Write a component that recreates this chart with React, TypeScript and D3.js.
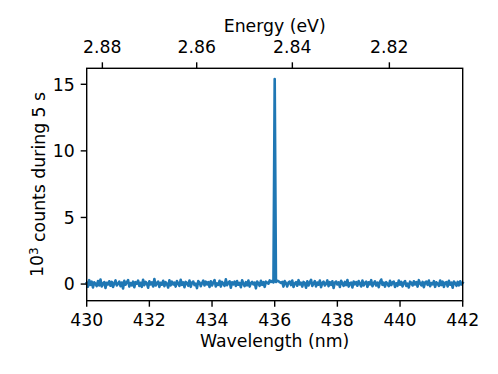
import React, { useEffect, useRef } from "react";
import * as d3 from "d3";

// spectrum sampled every 0.04 nm from 430 nm, values in 10^3 counts
const startNm = 430;
const stepNm = 0.04;
const counts = [
  0.08, -0.2, 0.29, -0.06, 0.18, -0.26, 0.13, 0.03, -0.15, 0.22, -0.1, 0.34, -0.18, 0.05, 0.15, -0.29, 0.1, -0.03, 0.21, -0.13,
  0.16, -0.22, 0.06, 0.27, -0.11, 0.02, 0.19, -0.16, 0.11, -0.33, 0.24, -0.05, 0.13, 0.3, -0.19, 0.08, -0.1, 0.18, -0.24, 0.14,
  0.03, 0.26, -0.14, 0.1, -0.21, 0.32, -0.08, 0.16, 0.05, -0.27, 0.21, -0.02, 0.13, -0.18, 0.38, -0.11, 0.06, 0.19, -0.22, 0.1,
  -0.05, 0.24, -0.16, 0.14, 0.02, -0.26, 0.29, -0.1, 0.18, -0.03, 0.11, -0.19, 0.22, 0.05, -0.14, 0.32, -0.06, 0.13, -0.24, 0.16,
  0.08, -0.13, 0.27, -0.21, 0.1, 0.19, -0.08, 0.03, -0.3, 0.22, 0.13, -0.16, 0.06, 0.26, -0.11, 0.18, -0.03, 0.14, -0.22, 0.21,
  -0.1, 0.11, 0.3, -0.18, 0.05, -0.06, 0.24, -0.19, 0.16, 0.02, -0.13, 0.35, -0.08, 0.1, 0.21, -0.27, 0.13, -0.02, 0.18, -0.14,
  0.22, -0.05, 0.08, -0.24, 0.29, 0.03, -0.16, 0.14, -0.1, 0.26, -0.19, 0.06, 0.16, -0.03, 0.11, -0.32, 0.19, 0.05, -0.13, 0.24,
  -0.06, 0.14, -0.21, 0.18, 0.1, 0.03, 0.27, 0.16, 0.24, 0.12, 15.4, 0.15, 0.26, 0.22, 0.14, 0.08, 0.16, -0.19, 0.22, 0.06,
  -0.18, 0.11, 0.19, -0.08, 0.26, -0.22, 0.05, 0.14, -0.13, 0.29, -0.03, 0.1, -0.19, 0.16, 0.06, -0.27, 0.21, -0.1, 0.13, 0.32,
  -0.14, 0.03, 0.22, -0.18, 0.11, -0.05, 0.26, -0.24, 0.08, 0.18, -0.11, 0.02, 0.27, -0.16, 0.14, -0.06, 0.21, -0.29, 0.1, 0.19,
  -0.03, 0.13, -0.22, 0.24, 0.05, -0.14, 0.16, -0.08, 0.3, -0.19, 0.06, 0.11, -0.26, 0.19, -0.02, 0.14, -0.13, 0.22, 0.03, -0.18,
  0.26, -0.1, 0.08, 0.18, -0.21, 0.13, -0.03, 0.29, -0.16, 0.05, 0.21, -0.11, 0.1, -0.24, 0.16, 0.34, -0.06, 0.11, -0.19, 0.14,
  0.02, -0.16, 0.24, -0.08, 0.13, 0.19, -0.22, 0.06, -0.13, 0.27, -0.05, 0.16, -0.18, 0.1, 0.22, -0.14, 0.03, -0.26, 0.18, 0.08,
  -0.11, 0.21, -0.03, 0.14, -0.19, 0.29, 0.05, -0.1, 0.16, -0.24, 0.11, 0.19, -0.06, 0.26, -0.16, 0.08, -0.02, 0.22, -0.21, 0.13,
  0.03, -0.14, 0.27, -0.08, 0.18, -0.22, 0.1, 0.14, -0.18, 0.24, -0.05, 0.11, -0.27, 0.19, 0.06, -0.13, 0.16, -0.1, 0.21, -0.03,
  0.1,
];
const wavelengthTicks = [430, 432, 434, 436, 438, 440, 442];
const energyTicks = [2.88, 2.86, 2.84, 2.82];
const countTicks = [0, 5, 10, 15];

const HC = 1239.84; // eV nm
const W = 498;
const H = 374;
const FONT = "DejaVu Sans, sans-serif";
const FS = 17.3;

export default function App() {
  const ref = useRef<SVGSVGElement>(null);

  useEffect(() => {
    const svg = d3.select(ref.current);
    svg.selectAll("*").remove();

    const left = 86.7, right = 462.7, top = 68.3, bottom = 300.7;
    const x = d3.scaleLinear().domain([430, 442]).range([left, right]);
    const y = d3.scaleLinear().domain([-1.25, 16.2]).range([bottom, top]);

    const data = counts.map((c, i) => ({ w: startNm + i * stepNm, c }));

    const line = d3
      .line<{ w: number; c: number }>()
      .x(d => x(d.w))
      .y(d => y(d.c));

    svg
      .append("path")
      .datum(data)
      .attr("d", line)
      .attr("fill", "none")
      .attr("stroke", "#1f77b4")
      .attr("stroke-width", 2.6)
      .attr("stroke-linejoin", "round")
      .attr("stroke-linecap", "square");

    // frame
    svg
      .append("rect")
      .attr("x", left)
      .attr("y", top)
      .attr("width", right - left)
      .attr("height", bottom - top)
      .attr("fill", "none")
      .attr("stroke", "black")
      .attr("stroke-width", 1.4);

    const tickLen = 6;
    const pad = 6;

    // bottom axis
    wavelengthTicks.forEach(t => {
      svg.append("line")
        .attr("x1", x(t)).attr("x2", x(t))
        .attr("y1", bottom).attr("y2", bottom + tickLen)
        .attr("stroke", "black").attr("stroke-width", 1.4);
      svg.append("text")
        .attr("x", x(t)).attr("y", bottom + tickLen + pad + 13)
        .attr("text-anchor", "middle")
        .attr("font-family", FONT).attr("font-size", FS)
        .text(String(t));
    });

    // top axis in energy
    energyTicks.forEach(e => {
      const px = x(HC / e);
      svg.append("line")
        .attr("x1", px).attr("x2", px)
        .attr("y1", top).attr("y2", top - tickLen)
        .attr("stroke", "black").attr("stroke-width", 1.4);
      svg.append("text")
        .attr("x", px).attr("y", top - tickLen - pad - 3)
        .attr("text-anchor", "middle")
        .attr("font-family", FONT).attr("font-size", FS)
        .text(d3.format(".2f")(e));
    });

    // left axis
    countTicks.forEach(t => {
      svg.append("line")
        .attr("x1", left).attr("x2", left - tickLen)
        .attr("y1", y(t)).attr("y2", y(t))
        .attr("stroke", "black").attr("stroke-width", 1.4);
      svg.append("text")
        .attr("x", left - tickLen - pad).attr("y", y(t))
        .attr("dy", "0.36em")
        .attr("text-anchor", "end")
        .attr("font-family", FONT).attr("font-size", FS)
        .text(String(t));
    });

    svg.append("text")
      .attr("x", (left + right) / 2).attr("y", 347)
      .attr("text-anchor", "middle")
      .attr("font-family", FONT).attr("font-size", FS)
      .text("Wavelength (nm)");

    svg.append("text")
      .attr("x", (left + right) / 2).attr("y", 32)
      .attr("text-anchor", "middle")
      .attr("font-family", FONT).attr("font-size", FS)
      .text("Energy (eV)");

    const yl = svg.append("text")
      .attr("transform", `translate(${43},${(top + bottom) / 2}) rotate(-90)`)
      .attr("text-anchor", "middle")
      .attr("font-family", FONT).attr("font-size", FS);
    yl.append("tspan").text("10");
    yl.append("tspan").attr("dy", "-0.45em").attr("font-size", FS * 0.7).text("3");
    yl.append("tspan").attr("dy", "0.45em").text(" counts during 5 s");
  }, []);

  return (
    <svg
      ref={ref}
      width={W}
      height={H}
      style={{ position: "absolute", left: 0, top: 0, background: "white" }}
    />
  );
}
